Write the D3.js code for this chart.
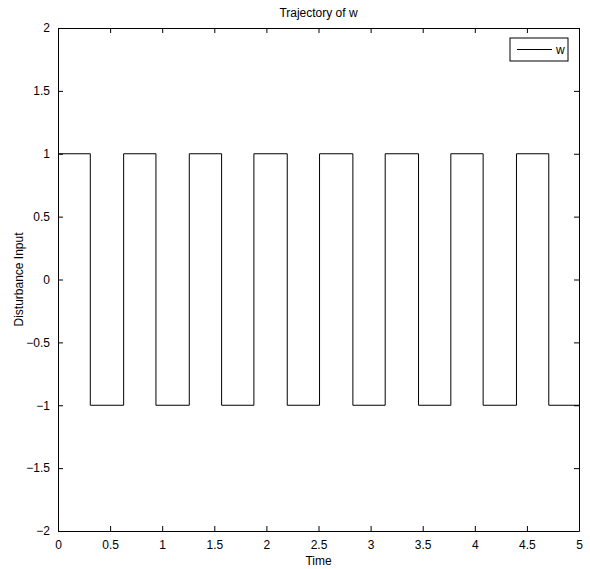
<!DOCTYPE html>
<html>
<head>
<meta charset="utf-8">
<script src="https://cdn.jsdelivr.net/npm/d3@7"></script>
<style>
  body { margin: 0; padding: 0; background: #fff; }
  text { font-family: "Liberation Sans", Arial, Helvetica, sans-serif; fill: #000; }
</style>
</head>
<body>
<script>
// switching times (w jumps between +1 and -1)
var switchTimes = [0, 0.31, 0.63, 0.94, 1.26, 1.57, 1.88, 2.2, 2.51, 2.83, 3.14, 3.46, 3.77, 4.08, 4.4, 4.71, 5];
var wValues     = [1, -1, 1, -1, 1, -1, 1, -1, 1, -1, 1, -1, 1, -1, 1, -1, -1];
var xTicks = [0, 0.5, 1, 1.5, 2, 2.5, 3, 3.5, 4, 4.5, 5];
var yTicks = [-2, -1.5, -1, -0.5, 0, 0.5, 1, 1.5, 2];

var W = 590, H = 569;
var margin = {top: 28, right: 11, bottom: 38, left: 58};   // plot box 58..579 x 28..531
var iw = W - margin.left - margin.right;
var ih = H - margin.top - margin.bottom;

var svg = d3.select("body").append("svg")
    .attr("width", W)
    .attr("height", H);

var g = svg.append("g").attr("transform", "translate(" + margin.left + "," + margin.top + ")");

var x = d3.scaleLinear().domain([0, 5]).range([0, iw]);
var y = d3.scaleLinear().domain([-2, 2]).range([ih, 0]);

var pts = switchTimes.map(function (t, i) { return {t: t, v: wValues[i]}; });

// signal
var line = d3.line()
    .x(function (d) { return x(d.t); })
    .y(function (d) { return y(d.v); })
    .curve(d3.curveStepAfter);

g.append("path")
    .datum(pts)
    .attr("d", line)
    .attr("fill", "none")
    .attr("stroke", "#000")
    .attr("stroke-width", 1);

// axes (matlab style: ticks inward on all four sides)
function styleAxis(sel) {
  sel.selectAll(".domain").attr("stroke", "#000").attr("stroke-width", 1);
  sel.selectAll(".tick line").attr("stroke", "#000");
  sel.selectAll(".tick text").style("font-size", "12px");
}

var fmt = function (d) { return d < 0 ? "\u2212" + Math.abs(d) : "" + d; };

g.append("g")
    .attr("transform", "translate(0," + ih + ")")
    .call(d3.axisBottom(x).tickValues(xTicks).tickSize(-5).tickPadding(9).tickSizeOuter(0).tickFormat(fmt))
    .call(styleAxis);

g.append("g")
    .call(d3.axisTop(x).tickValues(xTicks).tickSize(-5).tickSizeOuter(0).tickFormat(""))
    .call(styleAxis);

g.append("g")
    .call(d3.axisLeft(y).tickValues(yTicks).tickSize(-5).tickPadding(8).tickSizeOuter(0).tickFormat(fmt))
    .call(styleAxis);

g.append("g")
    .attr("transform", "translate(" + iw + ",0)")
    .call(d3.axisRight(y).tickValues(yTicks).tickSize(-5).tickSizeOuter(0).tickFormat(""))
    .call(styleAxis);

// titles
svg.append("text")
    .attr("x", margin.left + iw / 2)
    .attr("y", 17)
    .attr("text-anchor", "middle")
    .style("font-size", "12px")
    .text("Trajectory of w");

svg.append("text")
    .attr("x", margin.left + iw / 2)
    .attr("y", 565)
    .attr("text-anchor", "middle")
    .style("font-size", "12px")
    .text("Time");

svg.append("text")
    .attr("transform", "translate(23," + (margin.top + ih / 2) + ") rotate(-90)")
    .attr("text-anchor", "middle")
    .style("font-size", "12px")
    .text("Disturbance Input");

// legend
var lg = g.append("g").attr("transform", "translate(" + (iw - 69) + ",10)");
lg.append("rect")
    .attr("width", 58).attr("height", 23)
    .attr("fill", "#fff").attr("stroke", "#000").attr("stroke-width", 1);
lg.append("line")
    .attr("x1", 7).attr("x2", 42).attr("y1", 11.5).attr("y2", 11.5)
    .attr("stroke", "#000");
lg.append("text")
    .attr("x", 46).attr("y", 16)
    .style("font-size", "12px")
    .text("w");
</script>
</body>
</html>
